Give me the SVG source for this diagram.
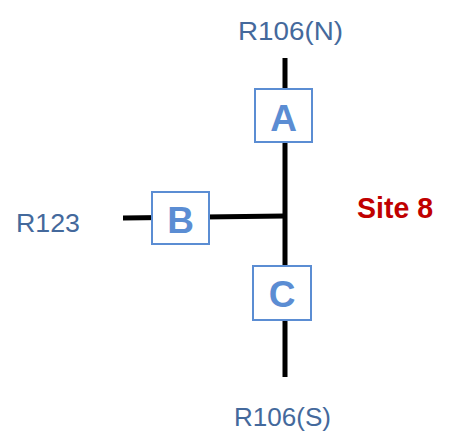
<svg xmlns="http://www.w3.org/2000/svg" width="451" height="438" viewBox="0 0 451 438">
<style>
.lbl{font-family:"Liberation Sans","DejaVu Sans",sans-serif;font-size:26px;fill:#44699c}
.box{fill:#ffffff;stroke:#5b8dd3;stroke-width:2}
.let{font-family:"Liberation Sans","DejaVu Sans",sans-serif;font-size:37px;font-weight:bold;fill:#5b8dd3;text-anchor:middle}
.wire{stroke:#000;stroke-width:5;fill:none}
</style>
<rect width="451" height="438" fill="#fff"/>
<g id="connectors">
<line class="wire" x1="285" y1="58" x2="285" y2="377"/>
<line class="wire" x1="123" y1="218" x2="285" y2="216"/>
</g>
<g id="A"><rect class="box" x="255" y="89" width="57" height="53"/><text class="let" x="283.5" y="130.5">A</text></g>
<g id="B"><rect class="box" x="152" y="192" width="57" height="52"/><text class="let" x="180.5" y="233">B</text></g>
<g id="C"><rect class="box" x="253" y="266" width="58" height="54"/><text class="let" x="282" y="307">C</text></g>
<g id="labels">
<text class="lbl" x="238" y="39.5" textLength="105" lengthAdjust="spacingAndGlyphs">R106(N)</text>
<text class="lbl" x="16" y="232" textLength="64" lengthAdjust="spacingAndGlyphs">R123</text>
<text class="lbl" x="234" y="425.5" textLength="97" lengthAdjust="spacingAndGlyphs">R106(S)</text>
<text x="357" y="218" textLength="76" lengthAdjust="spacingAndGlyphs" style="font-family:'Liberation Sans','DejaVu Sans',sans-serif;font-size:29px;font-weight:bold;fill:#c00000">Site 8</text>
</g>
</svg>
